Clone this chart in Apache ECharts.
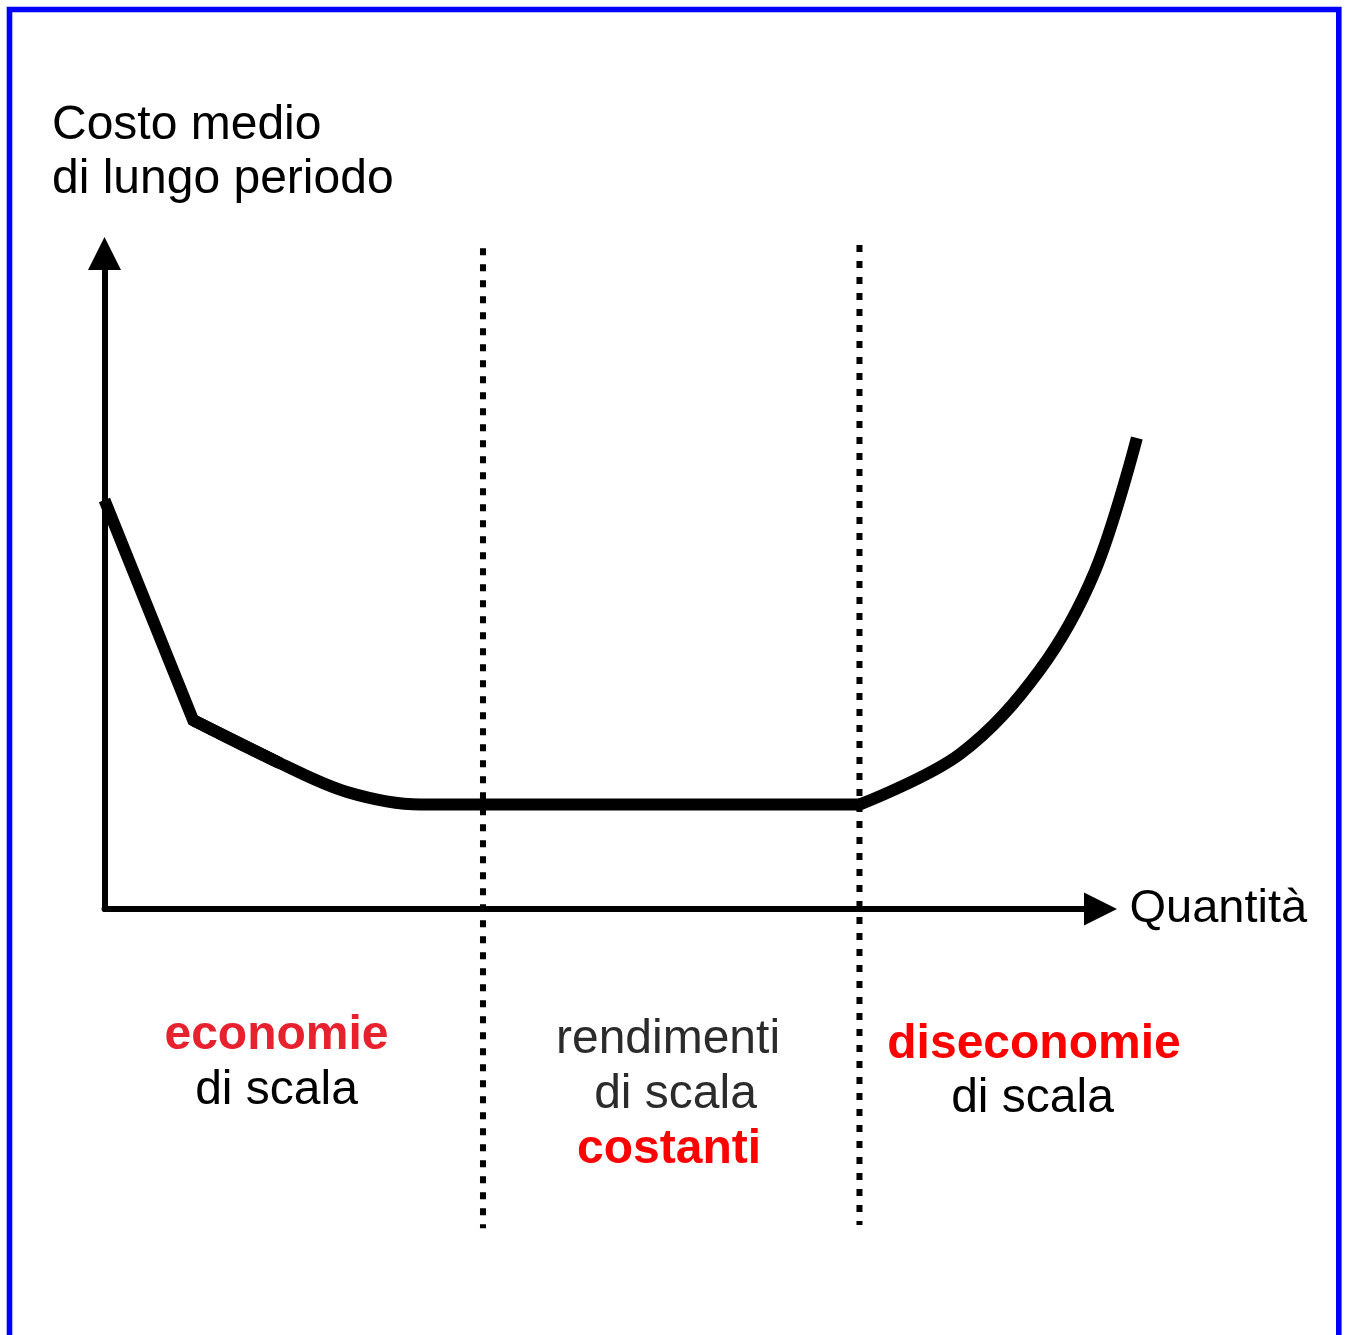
<!DOCTYPE html>
<html>
<head>
<meta charset="utf-8">
<script src="https://cdn.jsdelivr.net/npm/echarts@6/dist/echarts.min.js"></script>
<style>
  html, body { margin: 0; padding: 0; background: #fff; }
  #main { width: 1347px; height: 1335px; }
</style>
</head>
<body>
<div id="main"></div>
<script>
// curva del costo medio di lungo periodo (assi 0..100)
const fallX = [0, 8.9];
const fallY = [62.4, 28.8];
const bottomX = [8.9, 17.6, 24.35, 31.7, 37.9, 75.85];
const bottomY = [28.8, 22.25, 17.85, 15.95, 15.95, 15.95];
const riseX = [75.85, 85.9, 93.9, 99.45, 103.65];
const riseY = [15.95, 23.65, 36.45, 51.55, 71.85];

// confini delle tre zone (linee tratteggiate)
const zoneX = [38.0, 75.8];
const zoneTop = [100.8, 101.3];
const zoneBottom = [-48.7, -48.2];

// testi
const yName = ['Costo medio', 'di lungo periodo'];
const xName = 'Quantità';
const leftZone = ['economie', 'di scala'];
const midZone = ['rendimenti', 'di scala', 'costanti'];
const rightZone = ['diseconomie', 'di scala'];

const pairs = (xs, ys) => xs.map((x, i) => [x, ys[i]]);
const font = '"Liberation Sans", Arial, sans-serif';

const curveStyle = { color: '#000', width: 12, cap: 'butt', join: 'miter' };
const dotStyle = { color: '#000', width: 6, type: [7, 9], cap: 'butt' };
const hidden = { show: false };

// il tratto dritto prosegue fino al punto seguente per avere lo spigolo pieno
const fallData = pairs(fallX, fallY).concat([[bottomX[1], bottomY[1]]]);

function label(text, x, y, color, bold) {
    return {
        type: 'text', x, y, z: 10,
        style: {
            text, fill: color, font: (bold ? 'bold ' : '') + '48px ' + font,
            textAlign: 'center', textVerticalAlign: 'middle'
        }
    };
}

const myChart = echarts.init(document.getElementById('main'), null, { renderer: 'canvas' });

const option = {
    animation: false,
    backgroundColor: '#fff',
    grid: [
        // assi visibili con le frecce
        { left: 104.5, top: 253.5, width: 996, height: 655.5, containLabel: false },
        // stessa scala, più larga: la curva esce oltre la freccia dell'asse x
        { left: 104.5, top: 253.5, width: 996 * 1.1, height: 655.5, containLabel: false }
    ],
    xAxis: [
        {
            type: 'value', min: 0, max: 100, gridIndex: 0,
            name: xName, nameLocation: 'end', nameGap: 29,
            nameTextStyle: { fontSize: 47, fontFamily: font, color: '#000', verticalAlign: 'middle', padding: [6, 0, 0, 0] },
            axisLine: { symbol: ['none', 'triangle'], symbolSize: [33, 33], lineStyle: { color: '#000', width: 6 } },
            axisTick: hidden, axisLabel: hidden, splitLine: hidden
        },
        { type: 'value', min: 0, max: 110, gridIndex: 1, show: false }
    ],
    yAxis: [
        {
            type: 'value', min: 0, max: 100, gridIndex: 0,
            axisLine: { show: true, symbol: ['none', 'triangle'], symbolSize: [33, 33], lineStyle: { color: '#000', width: 6 } },
            axisTick: hidden, axisLabel: hidden, splitLine: hidden
        },
        { type: 'value', min: 0, max: 100, gridIndex: 1, show: false }
    ],
    series: [
        { type: 'line', xAxisIndex: 1, yAxisIndex: 1, data: fallData, symbol: 'none', clip: false, lineStyle: curveStyle },
        { type: 'line', xAxisIndex: 1, yAxisIndex: 1, data: pairs(bottomX, bottomY), smooth: 0.35, symbol: 'none', clip: false, lineStyle: curveStyle },
        { type: 'line', xAxisIndex: 1, yAxisIndex: 1, data: pairs(riseX, riseY), smooth: 0.35, symbol: 'none', clip: false, lineStyle: curveStyle },
        { type: 'line', xAxisIndex: 1, yAxisIndex: 1, data: [[zoneX[0], zoneTop[0]], [zoneX[0], zoneBottom[0]]], symbol: 'none', clip: false, lineStyle: dotStyle, z: 5 },
        { type: 'line', xAxisIndex: 1, yAxisIndex: 1, data: [[zoneX[1], zoneTop[1]], [zoneX[1], zoneBottom[1]]], symbol: 'none', clip: false, lineStyle: dotStyle, z: 5 }
    ],
    graphic: [
        // cornice blu (senza lato inferiore)
        {
            type: 'polyline', z: 20,
            shape: { points: [[9.5, 1345], [9.5, 9.5], [1338.8, 9.5], [1338.8, 1345]] },
            style: { stroke: '#0000ff', lineWidth: 5.6, fill: null }
        },
        {
            type: 'text', x: 52, y: 99, z: 10,
            style: { text: yName.join('\n'), fill: '#000', font: '48px ' + font, lineHeight: 54, textAlign: 'left', textVerticalAlign: 'top' }
        },
        label(leftZone[0], 276.5, 1036, '#e8212e', true),
        label(leftZone[1], 276.5, 1090.5, '#000', false),
        label(midZone[0], 668, 1040, '#2b2b2b', false),
        label(midZone[1], 675.5, 1095, '#2b2b2b', false),
        label(midZone[2], 669, 1150, '#ff0000', true),
        label(rightZone[0], 1034, 1045, '#ff0000', true),
        label(rightZone[1], 1032.5, 1099, '#000', false)
    ]
};

myChart.setOption(option);
</script>
</body>
</html>
